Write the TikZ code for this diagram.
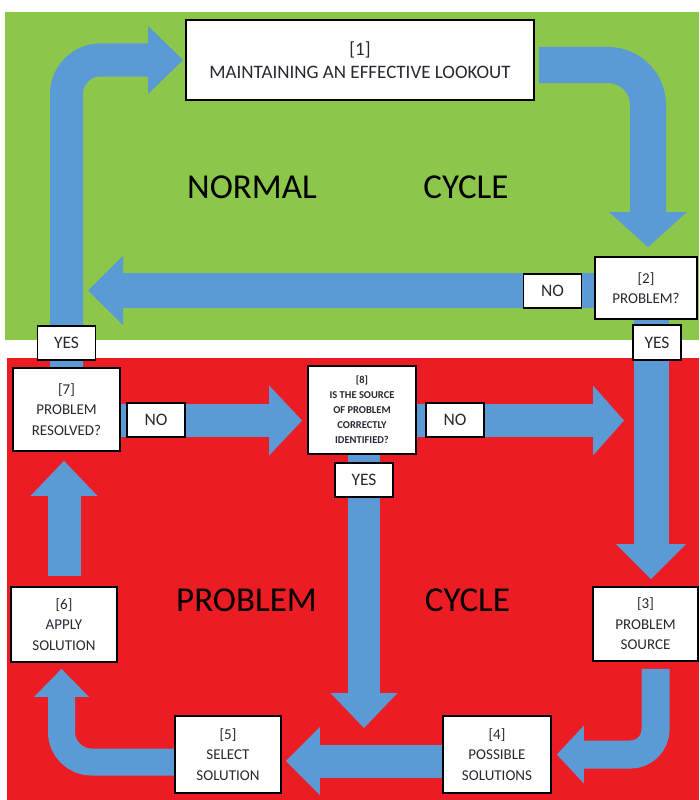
\documentclass[tikz,border=0pt]{standalone}
\usepackage{fontspec}
\setmainfont{Carlito}
\usetikzlibrary{positioning,arrows.meta}

\definecolor{normalgreen}{RGB}{140,198,74}
\definecolor{problemred}{RGB}{236,28,36}
\definecolor{flowblue}{RGB}{91,155,213}
\definecolor{boxtext}{RGB}{40,40,50}

\pgfdeclarelayer{back}
\pgfdeclarelayer{flows}
\pgfsetlayers{back,flows,main}

\begin{document}
\begin{tikzpicture}[x=1pt, y=-1pt, font=\fontsize{15}{20.5}\selectfont,
	flow/.style n args={3}{flowblue, line width=#1, -{Triangle[length=#2, width=#3, line width=0pt]}}]

	\tikzstyle{stepBox} = [draw, line width=1.8pt, fill=white, text=boxtext, align=center, inner sep=0pt]
	\tikzstyle{answer} = [draw, line width=1.5pt, fill=white, text=boxtext, inner sep=0pt, minimum width=58pt, minimum height=34pt, font=\fontsize{17.5}{20}\selectfont]
	\tikzstyle{cycleName} = [font=\fontsize{35}{40}\selectfont]

	\useasboundingbox (0,0) rectangle (699,800);

	% Backgrounds
	\begin{pgfonlayer}{back}
		\fill[white] (0,0) rectangle (699,800);
		\fill[normalgreen] (5,12) rectangle (699,340);
		\fill[problemred] (7,358) rectangle (699,800);
	\end{pgfonlayer}

	% Steps
	\node[stepBox, minimum width=348pt, minimum height=80pt, font=\fontsize{19}{23}\selectfont] (lookout) at (360,60) {[1]\\MAINTAINING AN EFFECTIVE LOOKOUT};
	\node[stepBox, minimum width=102pt, minimum height=62pt] (problem) at (646,288) {[2]\\PROBLEM?};
	\node[stepBox, minimum width=105pt, minimum height=74pt] (source) at (645.5,624) {[3]\\PROBLEM\\SOURCE};
	\node[stepBox, minimum width=108pt, minimum height=77pt] (possible) at (497,754.5) {[4]\\POSSIBLE\\SOLUTIONS};
	\node[stepBox, minimum width=106pt, minimum height=77pt] (select) at (228,754.5) {[5]\\SELECT\\SOLUTION};
	\node[stepBox, minimum width=106pt, minimum height=75pt] (apply) at (64,624.5) {[6]\\APPLY\\SOLUTION};
	\node[stepBox, minimum width=107pt, minimum height=83pt] (resolved) at (66.5,409.5) {[7]\\PROBLEM\\RESOLVED?};
	\node[stepBox, minimum width=108pt, minimum height=88pt, font=\bfseries\fontsize{10.5}{15}\selectfont] (identified) at (362,410) {[8]\\IS THE SOURCE\\OF PROBLEM\\CORRECTLY\\IDENTIFIED?};

	% Answers
	\node[answer] (noNormal) at (552.5,291) {NO};
	\node[answer] (yesNormal) at (66.5,343) {YES};
	\node[answer, minimum width=48pt, minimum height=35pt] (yesProblem) at (657,342.5) {YES};
	\node[answer] (noResolved) at (156,420) {NO};
	\node[answer] (noSource) at (455,420) {NO};
	\node[answer] (yesSource) at (364,480) {YES};

	% Cycle names
	\node[cycleName] (normalWord) at (252,187) {NORMAL};
	\node[cycleName] (normalCycle) at (466,187) {CYCLE};
	\node[cycleName] (problemWord) at (246.5,600) {PROBLEM};
	\node[cycleName] (problemCycle) at (467.5,600) {CYCLE};

	% Free ends
	\coordinate (mergeLeft) at (88,290.5);
	\coordinate (mergeRight) at (624,420.5);
	\coordinate (mergeBottom) at (364,728);

	% Flows
	\begin{pgfonlayer}{flows}
		\draw[flow={33pt}{35pt}{68pt}, rounded corners=34pt, shorten >=2pt] (resolved.north) |- (lookout.west);
		\draw[flow={36pt}{35pt}{78pt}, rounded corners=40pt, shorten <=4pt, shorten >=9pt] ([yshift=-5pt]lookout.east) -| ([xshift=2pt]problem.north);
		\draw[flow={35pt}{35pt}{69pt}] (mergeLeft -| problem.west) -- (mergeLeft);
		\draw[flow={35pt}{35pt}{70pt}, shorten >=7pt] ([xshift=5pt]problem.south) -- ([xshift=5pt]problem.south |- source.north);
		\draw[flow={28pt}{27pt}{58pt}, rounded corners=25pt, shorten <=7pt, shorten >=5pt] ([xshift=10pt]source.south) |- (possible.east);
		\draw[flow={33pt}{34pt}{68pt}, shorten >=4pt] ([yshift=-6.5pt]possible.west) -- ([yshift=-6.5pt]possible.west -| select.east);
		\draw[flow={27pt}{28pt}{55pt}, rounded corners=30pt, shorten >=6pt] ([yshift=-7.5pt]select.west) -| ([xshift=-2.5pt]apply.south);
		\draw[flow={33pt}{35pt}{67pt}, shorten <=10pt, shorten >=9pt] (apply.north) -- (apply.north |- resolved.south);
		\draw[flow={33pt}{33pt}{70pt}, shorten >=5pt] ([yshift=-11pt]resolved.east) -- ([yshift=-11pt]resolved.east -| identified.west);
		\draw[flow={33pt}{31pt}{70pt}] (mergeRight -| identified.east) -- (mergeRight);
		\draw[flow={32pt}{35pt}{67pt}] (mergeBottom |- identified.south) -- (mergeBottom);
	\end{pgfonlayer}

\end{tikzpicture}
\end{document}
